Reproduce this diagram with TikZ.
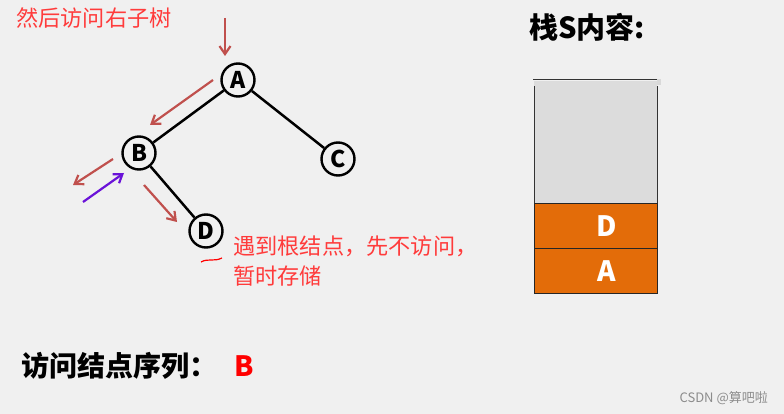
\documentclass[tikz,border=0pt]{standalone}
\usepackage{fontspec}
\setmainfont{Noto Sans CJK SC}
\usetikzlibrary{arrows.meta}
\definecolor{bg}{HTML}{F0F0F0}
\definecolor{arrred}{HTML}{C0504D}
\definecolor{txtred}{HTML}{FF3B3B}
\definecolor{purp}{HTML}{6A12D8}
\definecolor{stackgray}{HTML}{DCDCDC}
\definecolor{stackorange}{HTML}{E36C09}
\tikzset{
  tnode/.style={circle,draw=black,line width=2.4pt,minimum size=33pt,inner sep=0pt,font=\fontsize{23}{23}\selectfont\bfseries},
  tedge/.style={line width=2.5pt,black},
  redarr/.style={line width=2.2pt,arrred,-{Straight Barb[length=8pt,width=11pt]}},
  purparr/.style={line width=2.2pt,purp,-{Straight Barb[length=8pt,width=11pt]}},
  note/.style={anchor=west,text=txtred,font=\fontsize{22.2}{25}\selectfont,inner sep=0pt},
  stackcell/.style={draw=black!85,line width=1pt,fill=stackorange,minimum width=123pt,minimum height=45pt,inner sep=0pt,anchor=north west,text=white,font=\fontsize{28}{28}\selectfont\bfseries},
}
\begin{document}
\begin{tikzpicture}[x=1pt,y=-1pt]
\fill[bg] (0,0) rectangle (784,414);
\useasboundingbox (0,0) rectangle (784,414);

% tree
\node[tnode] (A) at (238,80) {A};
\node[tnode] (B) at (139,153) {B};
\node[tnode] (C) at (338,159) {C};
\node[tnode] (D) at (206,231) {D};
\draw[tedge] (A) -- (B);
\draw[tedge] (A) -- (C);
\draw[tedge] (B) -- (D);

% arrows
\coordinate (a1s) at (225,18); \coordinate (a1e) at (225,56);
\coordinate (a2s) at (213,80); \coordinate (a2e) at (150,125);
\coordinate (a3s) at (113,159); \coordinate (a3e) at (73,185);
\coordinate (a4s) at (144,185); \coordinate (a4e) at (177,222);
\coordinate (p1s) at (83,202); \coordinate (p1e) at (124,173);
\draw[redarr] (a1s) -- (a1e);
\draw[redarr] (a2s) -- (a2e);
\draw[redarr] (a3s) -- (a3e);
\draw[redarr] (a4s) -- (a4e);
\draw[purparr] (p1s) -- (p1e);
\coordinate (u1) at (201,262); \coordinate (u2) at (222,258);
\draw[red,line width=1.2pt] (u1) .. controls (208,258) and (214,262) .. (u2);

% notes
\node[note] (t1) at (16,18) {然后访问右子树};
\node[note] (t2) at (233,246) {遇到根结点，先不访问，};
\node[note] (t3) at (233,276) {暂时存储};

% stack
\node[anchor=west,inner sep=0pt,font=\fontsize{29}{29}\selectfont\bfseries] (title) at (529,27) {栈S内容:};
\fill[stackgray] (534,81) rectangle (657,203);
\draw[black!80,line width=1pt] (533,80) -- (657,80);
\fill[black!15] (657,79) rectangle (661,85);
\draw[black!80,line width=1pt] (534,86) -- (534,203);
\draw[black!80,line width=1pt] (657,86) -- (657,203);
\node[stackcell] (sD) at (534,203) {\hspace*{22pt}D};
\node[stackcell] (sA) at (534,248) {\hspace*{22pt}A};

% bottom
\node[anchor=west,inner sep=0pt,font=\fontsize{28}{28}\selectfont\bfseries] (seq) at (21,366) {访问结点序列：};
\node[anchor=west,inner sep=0pt,text=red,font=\fontsize{28}{28}\selectfont\bfseries] (seqB) at (234,366) {B};
\node[anchor=east,inner sep=0pt,text=black!45,font=\fontsize{13}{13}\selectfont] (wm) at (768,398) {CSDN @算吧啦};
\end{tikzpicture}
\end{document}
